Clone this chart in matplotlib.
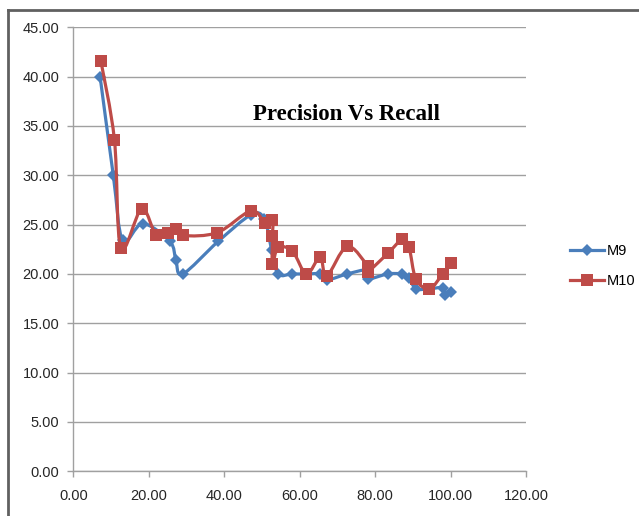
import matplotlib
matplotlib.use("Agg")
import matplotlib.pyplot as plt
from matplotlib.path import Path
from matplotlib.patches import PathPatch
from matplotlib.lines import Line2D
import numpy as np

# Valores (Recall no eixo x, Precision no eixo y)
m9_recall = [7.1, 10.6, 13.1, 18.4, 25.6, 27.2, 29.0, 38.4, 47.1, 50.6, 52.6,
             54.3, 58.1, 61.8, 65.4, 67.2, 72.6, 77.8, 78.0, 83.4, 87.2, 89.0,
             90.8, 94.4, 97.9, 98.5, 100.0]
m9_precision = [40.0, 30.0, 23.4, 25.1, 23.3, 21.4, 20.0, 23.3, 26.0, 25.6, 22.4,
                20.0, 20.0, 20.0, 20.0, 19.4, 20.0, 20.4, 19.5, 20.0, 20.0, 19.6,
                18.5, 18.5, 18.6, 17.9, 18.2]

m10_recall = [7.3, 10.9, 12.6, 18.1, 21.9, 25.2, 27.2, 29.2, 38.2, 47.1, 50.8,
              52.8, 52.8, 52.8, 54.3, 58.1, 61.8, 65.4, 67.2, 72.6, 78.0, 78.0,
              83.4, 87.2, 89.0, 90.8, 94.4, 97.9, 100.0]
m10_precision = [41.6, 33.6, 22.6, 26.6, 24.0, 24.2, 24.6, 23.9, 24.2, 26.4, 25.2,
                 25.5, 23.8, 21.0, 22.7, 22.3, 20.0, 21.7, 19.8, 22.8, 20.8, 20.2,
                 22.1, 23.5, 22.7, 19.5, 18.5, 20.0, 21.1]

BLUE = "#4A7EBB"
RED = "#BE4B48"


def smooth_path(xs, ys):
    """Curva suavizada estilo Excel (Bezier Catmull-Rom pelos pontos)."""
    p = np.column_stack([xs, ys])
    n = len(p)
    verts = [p[0]]
    codes = [Path.MOVETO]
    for i in range(n - 1):
        p0 = p[i - 1] if i > 0 else p[i]
        p3 = p[i + 2] if i + 2 < n else p[i + 1]
        c1 = p[i] + (p[i + 1] - p0) / 6.0
        c2 = p[i + 1] - (p3 - p[i]) / 6.0
        verts += [c1, c2, p[i + 1]]
        codes += [Path.CURVE4] * 3
    return Path(verts, codes)


fig = plt.figure(figsize=(6.39, 5.16), dpi=100)
ax = fig.add_axes([0.1147, 0.0866, 0.7085, 0.8605])

grid_c = "#A0A0A0"
ax.set_xlim(0, 120)
ax.set_ylim(0, 45)
ax.set_xticks(np.arange(0, 121, 20))
ax.set_yticks(np.arange(0, 46, 5))
ax.set_xticklabels([f"{v:.2f}" for v in np.arange(0, 121, 20)])
ax.set_yticklabels([f"{v:.2f}" for v in np.arange(0, 46, 5)])
ax.grid(axis="y", color=grid_c, linewidth=1.0)
ax.set_axisbelow(True)
for s in ["top", "right"]:
    ax.spines[s].set_visible(False)
for s in ["left", "bottom"]:
    ax.spines[s].set_color(grid_c)
    ax.spines[s].set_linewidth(1.0)
ax.tick_params(axis="both", colors=grid_c, length=4, width=1.0,
               labelsize=10.5, labelcolor="#262626")
ax.tick_params(axis="x", pad=9)
ax.tick_params(axis="y", pad=6)
for lab in ax.get_xticklabels() + ax.get_yticklabels():
    lab.set_fontfamily("Liberation Sans")

# Séries
for xs, ys, c, mk, ms, z in [
    (m9_recall, m9_precision, BLUE, "D", 6.5, 3),
    (m10_recall, m10_precision, RED, "s", 9, 4),
]:
    ax.add_patch(PathPatch(smooth_path(xs, ys), facecolor="none",
                           edgecolor=c, linewidth=2.3, zorder=z,
                           joinstyle="round", capstyle="round"))
    ax.plot(xs, ys, linestyle="none", marker=mk, markersize=ms,
            color=c, markeredgewidth=0, zorder=z + 0.5, clip_on=False)

ax.text(72.5, 36.2, "Precision Vs Recall", fontsize=16.5, fontweight="bold",
        family="Liberation Serif", ha="center", va="center", color="black")

handles = [
    Line2D([], [], color=BLUE, marker="D", markersize=6, linewidth=2.3,
           markeredgewidth=0),
    Line2D([], [], color=RED, marker="s", markersize=8, linewidth=2.3,
           markeredgewidth=0),
]
fig.legend(handles, ["M9", "M10"], loc="center left",
           bbox_to_anchor=(0.872, 0.485), frameon=False, handlelength=2.3,
           handletextpad=0.2, labelspacing=1.1,
           prop={"family": "Liberation Sans", "size": 10.5})

# Moldura externa (só esquerda e topo aparecem no recorte)
frame_c = "#606060"
fig.add_artist(Line2D([0.0125, 0.0125], [0.0, 0.981], color=frame_c,
                      linewidth=2.0, transform=fig.transFigure))
fig.add_artist(Line2D([0.0125, 1.0], [0.981, 0.981], color=frame_c,
                      linewidth=2.0, transform=fig.transFigure))

fig.savefig("out.png", dpi=100)
